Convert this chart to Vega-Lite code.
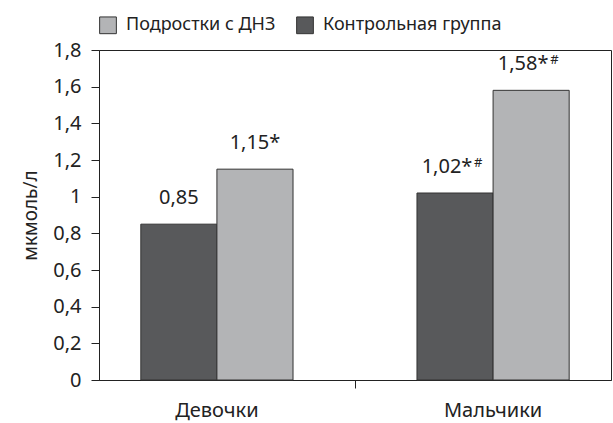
{
  "$schema": "https://vega.github.io/schema/vega-lite/v6.json",
  "autosize": {"type": "none"},
  "padding": {"left": 99, "top": 50, "right": 2, "bottom": 42},
  "width": 512,
  "height": 330,
  "data": {"values": [
    {"group": "Девочки", "series": "Контрольная группа", "value": 0.85, "label": "0,85", "sup": ""},
    {"group": "Девочки", "series": "Подростки с ДНЗ", "value": 1.15, "label": "1,15*", "sup": ""},
    {"group": "Мальчики", "series": "Контрольная группа", "value": 1.02, "label": "1,02*", "sup": "#"},
    {"group": "Мальчики", "series": "Подростки с ДНЗ", "value": 1.58, "label": "1,58*", "sup": "#"}
  ]},
  "encoding": {
    "x": {"field": "group", "type": "nominal", "sort": ["Девочки", "Мальчики"],
      "scale": {"paddingInner": 0.3, "paddingOuter": 0.077},
      "axis": {"title": null, "labelAngle": 0, "bandPosition": -0.214, "labelFontSize": 20, "labelPadding": 12, "tickSize": 8, "domainColor": "#222",
        "tickColor": {"condition": {"test": "datum.value == 'Девочки'", "value": "transparent"}, "value": "#222"},
        "labelColor": "#222"}},
    "xOffset": {"field": "series", "type": "nominal", "sort": ["Контрольная группа", "Подростки с ДНЗ"],
      "scale": {"paddingInner": 0, "paddingOuter": 0.27}},
    "y": {"field": "value", "type": "quantitative",
      "scale": {"domain": [0, 1.8], "nice": false},
      "axis": {"title": "мкмоль/л", "values": [0, 0.2, 0.4, 0.6, 0.8, 1, 1.2, 1.4, 1.6, 1.8], "format": ".1~f", "labelExpr": "replace(datum.label, '.', ',')", "grid": false, "tickSize": 8, "labelPadding": 10, "labelFontSize": 20, "titleFontSize": 19, "titleFontWeight": "normal", "titlePadding": 12, "domainColor": "#222", "tickColor": "#222", "labelColor": "#222", "titleColor": "#222"}}
  },
  "layer": [
    {"mark": {"type": "bar", "stroke": "#333", "strokeWidth": 1},
     "encoding": {"color": {"field": "series", "type": "nominal",
       "scale": {"domain": ["Подростки с ДНЗ", "Контрольная группа"], "range": ["#b3b4b6", "#58595b"]},
       "legend": {"title": null, "orient": "top", "direction": "horizontal", "offset": 14, "labelFontSize": 18, "labelLimit": 400, "labelColor": "#222", "symbolType": "square", "symbolSize": 280, "symbolStrokeColor": "#333", "symbolStrokeWidth": 1, "columnPadding": 18, "labelOffset": 9}}}},
    {"transform": [{"filter": "datum.sup == ''"}],
     "mark": {"type": "text", "baseline": "bottom", "dy": -16, "fontSize": 20, "color": "#222"},
     "encoding": {"text": {"field": "label"}}},
    {"transform": [{"filter": "datum.sup != ''"}],
     "mark": {"type": "text", "baseline": "bottom", "dy": -16, "dx": -8, "fontSize": 20, "color": "#222"},
     "encoding": {"text": {"field": "label"}}},
    {"transform": [{"filter": "datum.sup != ''"}],
     "mark": {"type": "text", "baseline": "bottom", "align": "left", "dy": -23, "dx": 19, "fontSize": 13, "color": "#222"},
     "encoding": {"text": {"field": "sup"}}}
  ],
  "config": {
    "font": "Noto Sans",
    "view": {"stroke": "#222", "strokeWidth": 1}
  }
}
